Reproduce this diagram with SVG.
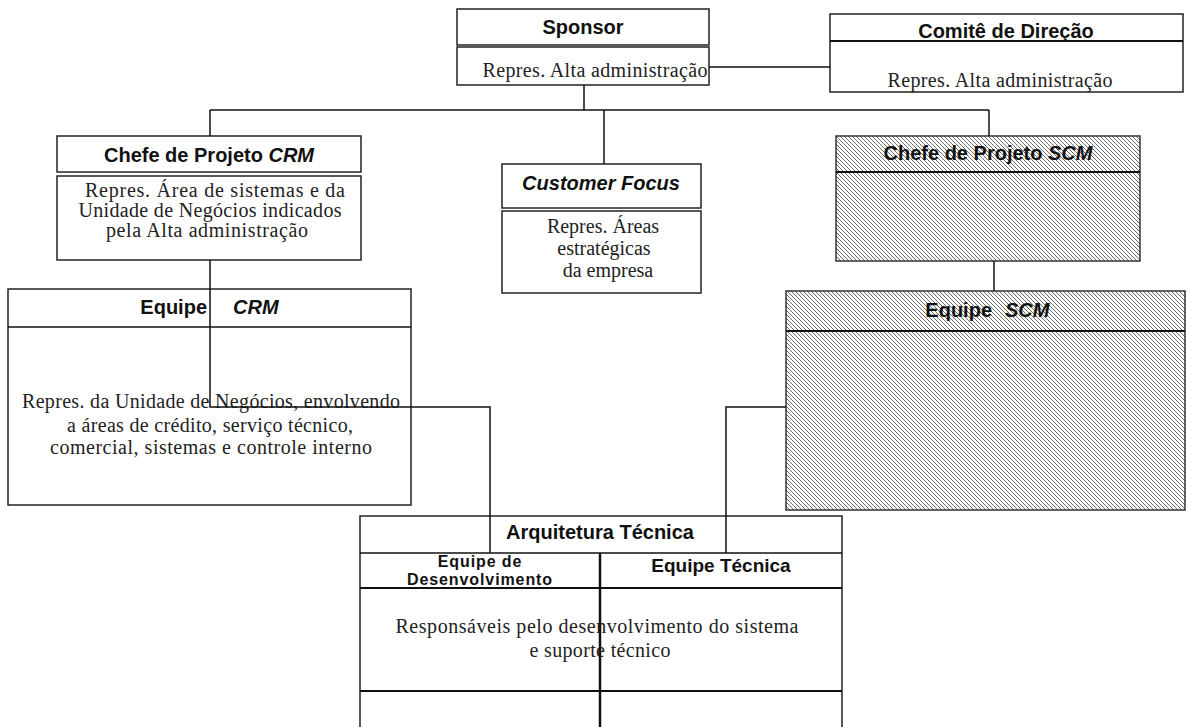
<svg xmlns="http://www.w3.org/2000/svg" width="1187" height="727" viewBox="0 0 1187 727">
  <defs>
    <pattern id="hatch" width="4" height="4" patternUnits="userSpaceOnUse">
      <rect width="4" height="4" fill="#fff"/>
      <path d="M-1,3 l2,2 M0,0 l4,4 M3,-1 l2,2" stroke="#6e6e6e" stroke-width="1"/>
    </pattern>
    <style>
      .box { fill: #fff; stroke: #222; stroke-width: 1.5; }
      .hbox { fill: url(#hatch); stroke: #333; stroke-width: 1.5; }
      .div { stroke: #111; stroke-width: 2; fill: none; }
      .hd { font-family: "Liberation Sans", Arial, sans-serif; font-weight: bold; font-size: 20px; fill: #111; text-anchor: middle; }
      .sub { font-size: 16px; letter-spacing: 0.9px; }
      .it { font-style: italic; }
      .bd { font-family: "Liberation Serif", "Times New Roman", serif; font-size: 20px; fill: #222; text-anchor: middle; }
      .conn { stroke: #111; stroke-width: 1.5; fill: none; }
    </style>
  </defs>
  <rect width="1187" height="727" fill="#fff"/>

  <!-- Sponsor -->
  <g id="sponsor">
    <rect class="box" x="457" y="9" width="252" height="36"/>
    <rect class="box" x="457" y="47" width="252" height="38"/>
    <text class="hd" x="583" y="34">Sponsor</text>
    <text class="bd" x="595" y="77" textLength="225" lengthAdjust="spacing">Repres. Alta administração</text>
  </g>

  <!-- Comitê de Direção -->
  <g id="comite">
    <rect class="box" x="830" y="14" width="353" height="78"/>
    <line class="div" x1="830" y1="41" x2="1183" y2="41"/>
    <text class="hd" x="1006" y="38">Comitê de Direção</text>
    <text class="bd" x="1000" y="87" textLength="225" lengthAdjust="spacing">Repres. Alta administração</text>
  </g>

  <!-- Chefe de Projeto CRM -->
  <g id="chefe-crm">
    <rect class="box" x="57" y="136" width="304" height="36"/>
    <rect class="box" x="57" y="176" width="304" height="84"/>
    <text class="hd" x="209" y="162">Chefe de Projeto <tspan class="it">CRM</tspan></text>
    <text class="bd" x="215" y="197" textLength="260" lengthAdjust="spacing">Repres. Área de sistemas e da</text>
    <text class="bd" x="210" y="217" textLength="263" lengthAdjust="spacing">Unidade de Negócios indicados</text>
    <text class="bd" x="207" y="237" textLength="202" lengthAdjust="spacing">pela Alta administração</text>
  </g>

  <!-- Customer Focus -->
  <g id="customer-focus">
    <rect class="box" x="502" y="164" width="199" height="44"/>
    <rect class="box" x="502" y="211" width="199" height="82"/>
    <text class="hd it" x="601" y="190">Customer Focus</text>
    <text class="bd" x="603" y="233">Repres. Áreas</text>
    <text class="bd" x="604" y="255">estratégicas</text>
    <text class="bd" x="608" y="277">da empresa</text>
  </g>

  <!-- Chefe de Projeto SCM -->
  <g id="chefe-scm">
    <rect class="hbox" x="836" y="136" width="304" height="125"/>
    <line class="div" x1="836" y1="172" x2="1140" y2="172"/>
    <text class="hd" x="988" y="160">Chefe de Projeto <tspan class="it">SCM</tspan></text>
  </g>

  <!-- Equipe CRM -->
  <g id="equipe-crm">
    <rect class="box" x="8" y="289" width="403" height="216"/>
    <line class="conn" x1="8" y1="327" x2="411" y2="327"/>
    <text class="hd" x="207" y="314" style="text-anchor:end">Equipe</text>
    <text class="hd it" x="233" y="314" style="text-anchor:start">CRM</text>
    <text class="bd" x="211" y="408" textLength="378" lengthAdjust="spacing">Repres. da Unidade de Negócios, envolvendo</text>
    <text class="bd" x="210" y="432" textLength="286" lengthAdjust="spacing">a áreas de crédito, serviço técnico,</text>
    <text class="bd" x="211" y="454" textLength="322" lengthAdjust="spacing">comercial, sistemas e  controle interno</text>
  </g>

  <!-- Equipe SCM -->
  <g id="equipe-scm">
    <rect class="hbox" x="786" y="291" width="399" height="219"/>
    <line class="div" x1="786" y1="331" x2="1185" y2="331"/>
    <text class="hd" x="992" y="317" style="text-anchor:end">Equipe</text>
    <text class="hd it" x="1005" y="317" style="text-anchor:start">SCM</text>
  </g>

  <!-- Arquitetura Técnica -->
  <g id="arquitetura">
    <rect class="box" x="360" y="516" width="482" height="220"/>
    <line class="conn" x1="360" y1="553" x2="842" y2="553"/>
    <line class="div" x1="360" y1="588" x2="842" y2="588"/>
    <line class="div" x1="360" y1="691" x2="842" y2="691"/>
    <line stroke="#111" stroke-width="2.5" x1="600" y1="553" x2="600" y2="727"/>
    <text class="hd" x="600" y="539">Arquitetura Técnica</text>
    <text class="hd sub" x="480" y="567">Equipe de</text>
    <text class="hd sub" x="480" y="585">Desenvolvimento</text>
    <text class="hd" x="721" y="572" style="font-size:19px">Equipe Técnica</text>
    <text class="bd" x="597" y="633" textLength="403" lengthAdjust="spacing">Responsáveis  pelo desenvolvimento do sistema</text>
    <text class="bd" x="600" y="657" textLength="141" lengthAdjust="spacing">e suporte técnico</text>
  </g>

  <!-- Connectors -->
  <g id="connectors">
    <line class="conn" x1="709" y1="67" x2="830" y2="67"/>
    <line class="conn" x1="584" y1="85" x2="584" y2="110"/>
    <line class="conn" x1="210" y1="110" x2="989" y2="110"/>
    <line class="conn" x1="210" y1="110" x2="210" y2="136"/>
    <line class="conn" x1="604" y1="110" x2="604" y2="164"/>
    <line class="conn" x1="989" y1="110" x2="989" y2="136"/>
    <line class="conn" x1="994" y1="261" x2="994" y2="291"/>
    <polyline class="conn" points="210,260 210,407 490,407 490,553"/>
    <polyline class="conn" points="786,407 726,407 726,553"/>
  </g>
</svg>
